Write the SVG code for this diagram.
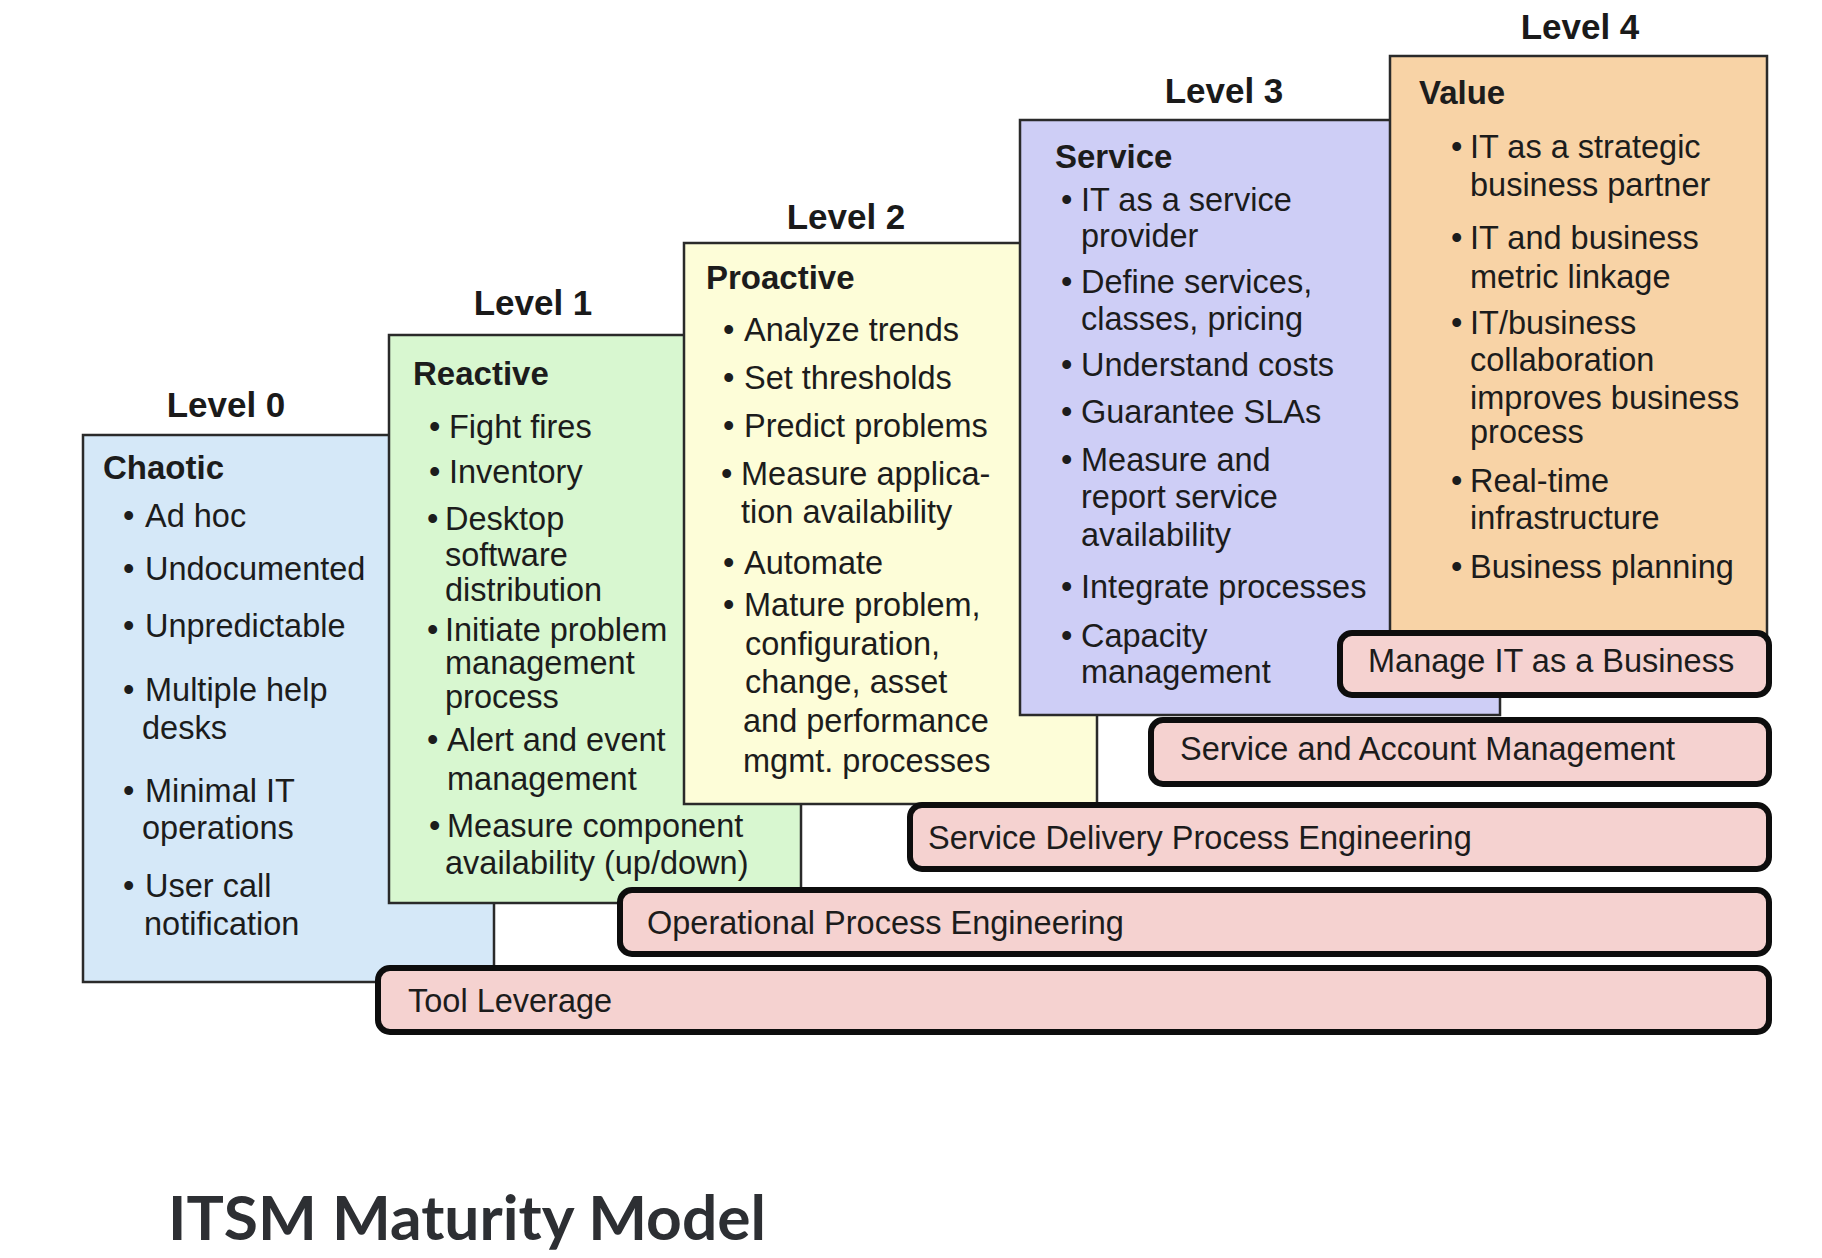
<svg xmlns="http://www.w3.org/2000/svg" width="1822" height="1258" viewBox="0 0 1822 1258">
<style>
.box{stroke:#2a2a2a;stroke-width:2.5}
.bar{fill:#f5d2d0;stroke:#0d0d0d;stroke-width:6}
.t{font-family:"Liberation Sans",Arial,Helvetica,sans-serif;font-size:32.5px;fill:#1c1c1c}
.h{font-weight:bold;font-size:33px}
.lvl{font-family:"Liberation Sans",Arial,Helvetica,sans-serif;font-weight:bold;font-size:35px;fill:#1a1a1a;text-anchor:middle}
.title{font-family:Lato,"Open Sans","Liberation Sans",sans-serif;font-weight:bold;font-size:62px;fill:#2d2f33}
</style>
<rect width="1822" height="1258" fill="#ffffff"/>

<g id="level0">
<text class="lvl" x="226" y="417">Level 0</text>
<rect class="box" x="83" y="435" width="411" height="547" fill="#d5e8f8"/>
<text class="t h" x="103" y="479">Chaotic</text>
<text class="t" x="123" y="527">•</text><text class="t" x="145" y="527">Ad hoc</text>
<text class="t" x="123" y="580">•</text><text class="t" x="145" y="580">Undocumented</text>
<text class="t" x="123" y="637">•</text><text class="t" x="145" y="637">Unpredictable</text>
<text class="t" x="123" y="701">•</text><text class="t" x="145" y="701">Multiple help</text>
<text class="t" x="142" y="739">desks</text>
<text class="t" x="123" y="802">•</text><text class="t" x="145" y="802">Minimal IT</text>
<text class="t" x="142" y="839">operations</text>
<text class="t" x="123" y="897">•</text><text class="t" x="145" y="897">User call</text>
<text class="t" x="144" y="935">notification</text>
</g>

<g id="level1">
<text class="lvl" x="533" y="315">Level 1</text>
<rect class="box" x="389" y="335" width="412" height="568" fill="#d8f7d0"/>
<text class="t h" x="413" y="385">Reactive</text>
<text class="t" x="429" y="438">•</text><text class="t" x="449" y="438">Fight fires</text>
<text class="t" x="429" y="483">•</text><text class="t" x="449" y="483">Inventory</text>
<text class="t" x="427" y="530">•</text><text class="t" x="445" y="530">Desktop</text>
<text class="t" x="445" y="566">software</text>
<text class="t" x="445" y="601">distribution</text>
<text class="t" x="427" y="641">•</text><text class="t" x="445" y="641">Initiate problem</text>
<text class="t" x="445" y="674">management</text>
<text class="t" x="445" y="708">process</text>
<text class="t" x="427" y="751">•</text><text class="t" x="447" y="751">Alert and event</text>
<text class="t" x="447" y="790">management</text>
<text class="t" x="429" y="837">•</text><text class="t" x="447" y="837">Measure component</text>
<text class="t" x="445" y="874">availability (up/down)</text>
</g>

<g id="level2">
<text class="lvl" x="846" y="229">Level 2</text>
<rect class="box" x="684" y="243" width="413" height="561" fill="#fdfdd8"/>
<text class="t h" x="706" y="289">Proactive</text>
<text class="t" x="723" y="341">•</text><text class="t" x="744" y="341">Analyze trends</text>
<text class="t" x="723" y="389">•</text><text class="t" x="744" y="389">Set thresholds</text>
<text class="t" x="723" y="437">•</text><text class="t" x="744" y="437">Predict problems</text>
<text class="t" x="721" y="485">•</text><text class="t" x="741" y="485">Measure applica-</text>
<text class="t" x="741" y="523">tion availability</text>
<text class="t" x="723" y="574">•</text><text class="t" x="744" y="574">Automate</text>
<text class="t" x="723" y="616">•</text><text class="t" x="744" y="616">Mature problem,</text>
<text class="t" x="745" y="655">configuration,</text>
<text class="t" x="745" y="693">change, asset</text>
<text class="t" x="743" y="732">and performance</text>
<text class="t" x="743" y="772">mgmt. processes</text>
</g>

<g id="level3">
<text class="lvl" x="1224" y="103">Level 3</text>
<rect class="box" x="1020" y="120" width="480" height="595" fill="#cecef6"/>
<text class="t h" x="1055" y="168">Service</text>
<text class="t" x="1061" y="211">•</text><text class="t" x="1081" y="211">IT as a service</text>
<text class="t" x="1081" y="247">provider</text>
<text class="t" x="1061" y="293">•</text><text class="t" x="1081" y="293">Define services,</text>
<text class="t" x="1081" y="330">classes, pricing</text>
<text class="t" x="1061" y="376">•</text><text class="t" x="1081" y="376">Understand costs</text>
<text class="t" x="1061" y="423">•</text><text class="t" x="1081" y="423">Guarantee SLAs</text>
<text class="t" x="1061" y="471">•</text><text class="t" x="1081" y="471">Measure and</text>
<text class="t" x="1081" y="508">report service</text>
<text class="t" x="1081" y="546">availability</text>
<text class="t" x="1061" y="598">•</text><text class="t" x="1081" y="598">Integrate processes</text>
<text class="t" x="1061" y="647">•</text><text class="t" x="1081" y="647">Capacity</text>
<text class="t" x="1081" y="683">management</text>
</g>

<g id="level4">
<text class="lvl" x="1580" y="39">Level 4</text>
<rect class="box" x="1390" y="56" width="377" height="600" fill="#f8d3a6"/>
<text class="t h" x="1419" y="104">Value</text>
<text class="t" x="1451" y="158">•</text><text class="t" x="1470" y="158">IT as a strategic</text>
<text class="t" x="1470" y="196">business partner</text>
<text class="t" x="1451" y="249">•</text><text class="t" x="1470" y="249">IT and business</text>
<text class="t" x="1470" y="288">metric linkage</text>
<text class="t" x="1451" y="334">•</text><text class="t" x="1470" y="334">IT/business</text>
<text class="t" x="1470" y="371">collaboration</text>
<text class="t" x="1470" y="409">improves business</text>
<text class="t" x="1470" y="443">process</text>
<text class="t" x="1451" y="492">•</text><text class="t" x="1470" y="492">Real-time</text>
<text class="t" x="1470" y="529">infrastructure</text>
<text class="t" x="1451" y="578">•</text><text class="t" x="1470" y="578">Business planning</text>
</g>

<g id="bar-manage-it">
<rect class="bar" x="1340" y="633" width="429" height="62" rx="12"/>
<text class="t" x="1368" y="672">Manage IT as a Business</text>
</g>
<g id="bar-service-account">
<rect class="bar" x="1151" y="720" width="618" height="64" rx="12"/>
<text class="t" x="1180" y="760">Service and Account Management</text>
</g>
<g id="bar-service-delivery">
<rect class="bar" x="910" y="805" width="859" height="64" rx="12"/>
<text class="t" x="928" y="849">Service Delivery Process Engineering</text>
</g>
<g id="bar-operational">
<rect class="bar" x="620" y="890" width="1149" height="64" rx="12"/>
<text class="t" x="647" y="934">Operational Process Engineering</text>
</g>
<g id="bar-tool">
<rect class="bar" x="378" y="968" width="1391" height="64" rx="12"/>
<text class="t" x="408" y="1012">Tool Leverage</text>
</g>

<g id="connectors"></g>

<g id="title">
<text class="title" x="168" y="1240" textLength="598" lengthAdjust="spacingAndGlyphs">ITSM Maturity Model</text>
</g>
</svg>
